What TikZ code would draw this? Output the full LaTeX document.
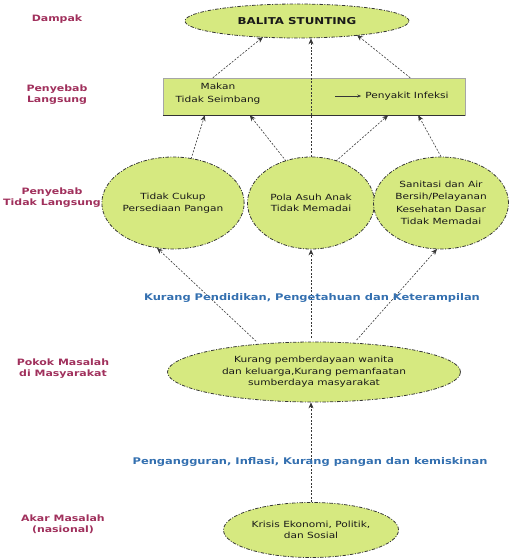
\documentclass[tikz,border=0pt]{standalone}
\usepackage{fontspec}
\setmainfont{DejaVu Sans}[FakeStretch=1.25]
\usetikzlibrary{shapes.geometric,arrows.meta,calc}
\definecolor{stgreen}{RGB}{214,233,128}
\definecolor{lblred}{RGB}{160,48,92}
\definecolor{lblblue}{RGB}{52,112,176}
\definecolor{edgegray}{RGB}{55,55,55}
\begin{document}
\begin{tikzpicture}[x=1bp,y=-1bp,
  oval/.style={ellipse, draw=edgegray, dash pattern=on 3.5pt off 1.5pt on 1pt off 1.5pt, line width=0.8pt, fill=stgreen, inner sep=0pt, align=center, text=black!90, font=\fontsize{8.5}{11.5}\selectfont},
  intext/.style={align=center, text=black!90, inner sep=0pt, font=\fontsize{8.5}{13}\selectfont},
  sidelabel/.style={align=center, text=lblred, font=\bfseries\fontsize{8.8}{11}\selectfont},
  bandtext/.style={text=lblblue, font=\bfseries\fontsize{9.2}{11}\selectfont},
  link/.style={draw=edgegray, line width=0.6pt, dash pattern=on 2pt off 1.5pt, -{Stealth[length=6pt,width=5pt]}},
]
\useasboundingbox (0,0) rectangle (516,558);

% side labels
\node[sidelabel] (lDampak) at (57,19) {Dampak};
\node[sidelabel] (lLangsung) at (57,95) {Penyebab\\Langsung};
\node[sidelabel] (lTidak) at (52,198) {Penyebab\\Tidak Langsung};
\node[sidelabel] (lPokok) at (63,369) {Pokok Masalah\\di Masyarakat};
\node[sidelabel] (lAkar) at (63,524) {Akar Masalah\\(nasional)};

% main nodes
\node[oval, minimum width=224bp, minimum height=34bp, font=\bfseries\fontsize{9.5}{11}\selectfont] (dampak) at (297,21) {BALITA STUNTING};

\node[rectangle, fill=stgreen, draw=black!35, line width=0.4pt, minimum width=302bp, minimum height=37bp, inner sep=0pt] (langsung) at (314,96.5) {};
\draw[line width=1pt, black!80] (langsung.south west) -- (langsung.south east);
\node[intext] (makan) at (218,94) {Makan\\Tidak Seimbang};
\node[intext] (infeksi) at (407,96) {Penyakit Infeksi};
\draw[draw=edgegray, line width=0.5pt, -{Stealth[length=4pt,width=3pt]}] ($(infeksi.west)+(-30,0)$) -- ($(infeksi.west)+(-4,0)$);

\node[oval, minimum width=131bp, minimum height=92bp] (pangan) at (173,203) {Tidak Cukup\\Persediaan Pangan};
\node[oval, minimum width=127bp, minimum height=92bp] (polaasuh) at (311,203) {Pola Asuh Anak\\Tidak Memadai};
\node[oval, minimum width=135bp, minimum height=92bp, font=\fontsize{8.5}{12.5}\selectfont] (sanitasi) at (441,203) {Sanitasi dan Air\\Bersih/Pelayanan\\Kesehatan Dasar\\Tidak Memadai};

\node[oval, minimum width=293bp, minimum height=60bp] (pokok) at (314,372) {Kurang pemberdayaan wanita\\dan keluarga,Kurang pemanfaatan\\sumberdaya masyarakat};

\node[oval, minimum width=175bp, minimum height=55bp] (akar) at (311,530) {Krisis Ekonomi, Politik,\\dan Sosial};

% connectors
\draw[link] ([xshift=50bp]langsung.north west) -- ($(dampak)+(-34,16)$);
\draw[link] ([xshift=-55bp]langsung.north east) -- ($(dampak)+(60,14)$);
\draw[link] (polaasuh.north) -- (polaasuh.north |- dampak.south);

\draw[link] ($(pangan)+(18,-44)$) -- ([xshift=42bp]langsung.south west);
\draw[link] ($(polaasuh)+(-25,-42)$) -- ([xshift=87bp]langsung.south west);
\draw[link] ($(polaasuh)+(25,-42)$) -- ([xshift=-77bp]langsung.south east);
\draw[link] (sanitasi.north) -- ([xshift=-47bp]langsung.south east);

\draw[link, shorten <=4bp] ($(pokok)+(-55,-28)$) -- ($(pangan)+(-16,45)$);
\draw[link, shorten <=4bp] (polaasuh.south |- pokok.north) -- (polaasuh.south);
\draw[link, shorten <=4bp] ($(pokok)+(40,-29)$) -- ($(sanitasi)+(-4,46)$);

\draw[link] (akar.north) -- (akar.north |- pokok.south);

% band texts
\node[bandtext] (pendidikan) at (312,298) {Kurang Pendidikan, Pengetahuan dan Keterampilan};
\node[bandtext] (pengangguran) at (310,462) {Pengangguran, Inflasi, Kurang pangan dan kemiskinan};
\end{tikzpicture}
\end{document}
